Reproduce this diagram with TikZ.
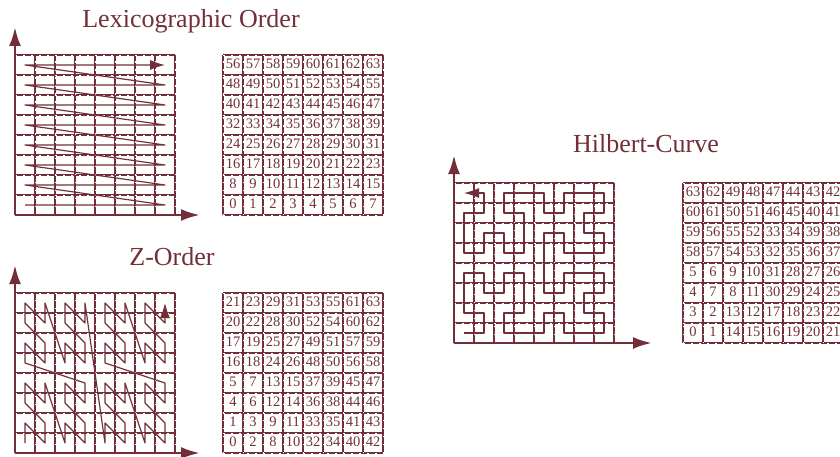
\documentclass[tikz,border=0pt]{standalone}
\usepackage{fontspec}
\setmainfont{Liberation Serif}
\usepackage{xcolor}
\usetikzlibrary{arrows.meta}

\definecolor{wine}{HTML}{722F37}

% cell positions (col/row) of the Hilbert index 0..63
\newcommand{\hilbertpts}{0/0,1/0,1/1,0/1,0/2,0/3,1/3,1/2,2/2,2/3,3/3,3/2,3/1,2/1,2/0,3/0,%
4/0,4/1,5/1,5/0,6/0,7/0,7/1,6/1,6/2,7/2,7/3,6/3,5/3,5/2,4/2,4/3,%
4/4,4/5,5/5,5/4,6/4,7/4,7/5,6/5,6/6,7/6,7/7,6/7,5/7,5/6,4/6,4/7,%
3/7,2/7,2/6,3/6,3/5,3/4,2/4,2/5,1/5,1/4,0/4,0/5,0/6,1/6,1/7,0/7}

\begin{document}
\begin{tikzpicture}[x=20pt,y=20pt,
    every node/.style={text=wine},
    title/.style={font=\fontsize{26}{26}\selectfont,anchor=base},
    num/.style={font=\fontsize{14.5}{14.5}\selectfont,inner sep=0pt},
    gridline/.style={wine,line width=2.6pt},
    gridgap/.style={white,line width=0.6pt,dash pattern=on 1.5pt off 6.5pt},
    axis/.style={wine,line width=2.8pt,-{Latex[length=19pt,width=12pt]}},
    curve/.style={wine,line width=1.2pt,line join=round,-{Latex[length=15pt,width=10pt]}},
    declare function={zx(\n)=mod(int(\n/2),2)+2*mod(int(\n/8),2)+4*mod(int(\n/32),2);
                      zy(\n)=mod(\n,2)+2*mod(int(\n/4),2)+4*mod(int(\n/16),2);},
  ]
  \useasboundingbox (0,0) rectangle (42,22.8);

  % titles
  \node[title] (lextitle) at (9.55,21.4)  {Lexicographic Order};
  \node[title] (ztitle)   at (8.6,9.55)   {Z-Order};
  \node[title] (htitle)   at (32.3,15.15) {Hilbert-Curve};

  % lexicographic order: curve
  \begin{scope}[shift={(0.75,12.05)}]
    \draw[gridline] (0,0) grid[step=1] (8,8);
    \draw[gridgap]  (0,0) grid[step=1] (8,8);
    \coordinate (lexO) at (0,0);
    \coordinate (lexY) at (0,9.4);
    \coordinate (lexX) at (9.25,0);
    \draw[axis] (lexO) -- (lexY);
    \draw[axis] (lexO) -- (lexX);
    \foreach \i in {0,...,63}
      \coordinate (l\i) at ({mod(\i,8)+0.5},{int(\i/8)+0.5});
    \draw[curve] (l0) \foreach \i in {1,...,63}{ -- (l\i)};
  \end{scope}

  % lexicographic order: numbers
  \begin{scope}[shift={(11.15,12.05)}]
    \draw[gridline] (0,0) grid[step=1] (8,8);
    \draw[gridgap]  (0,0) grid[step=1] (8,8);
    \foreach \i in {0,...,63}
      \node[num] (ln\i) at ({mod(\i,8)+0.5},{int(\i/8)+0.55}) {\i};
  \end{scope}

  % Z-order: curve
  \begin{scope}[shift={(0.75,0.15)}]
    \draw[gridline] (0,0) grid[step=1] (8,8);
    \draw[gridgap]  (0,0) grid[step=1] (8,8);
    \coordinate (zO) at (0,0);
    \coordinate (zY) at (0,9.4);
    \coordinate (zX) at (9.25,0);
    \draw[axis] (zO) -- (zY);
    \draw[axis] (zO) -- (zX);
    \foreach \i in {0,...,63}
      \coordinate (z\i) at ({zx(\i)+0.5},{zy(\i)+0.5});
    \draw[curve] (z0) \foreach \i in {1,...,63}{ -- (z\i)};
  \end{scope}

  % Z-order: numbers
  \begin{scope}[shift={(11.15,0.15)}]
    \draw[gridline] (0,0) grid[step=1] (8,8);
    \draw[gridgap]  (0,0) grid[step=1] (8,8);
    \foreach \i in {0,...,63}
      \node[num] (zn\i) at ({zx(\i)+0.5},{zy(\i)+0.55}) {\i};
  \end{scope}

  % Hilbert curve
  \begin{scope}[shift={(22.7,5.65)}]
    \draw[gridline] (0,0) grid[step=1] (8,8);
    \draw[gridgap]  (0,0) grid[step=1] (8,8);
    \coordinate (hO) at (0,0);
    \coordinate (hY) at (0,9.4);
    \coordinate (hX) at (9.9,0);
    \draw[axis] (hO) -- (hY);
    \draw[axis] (hO) -- (hX);
    \foreach \x/\y [count=\k from 0] in \hilbertpts
      \coordinate (h\k) at (\x+0.5,\y+0.5);
    \draw[curve] (h0) \foreach \i in {1,...,63}{ -- (h\i)};
  \end{scope}

  % Hilbert curve: numbers
  \begin{scope}[shift={(34.15,5.65)}]
    \draw[gridline] (0,0) grid[step=1] (8,8);
    \draw[gridgap]  (0,0) grid[step=1] (8,8);
    \foreach \x/\y [count=\k from 0] in \hilbertpts
      \node[num] (hn\k) at (\x+0.5,\y+0.55) {\k};
  \end{scope}
\end{tikzpicture}
\end{document}
